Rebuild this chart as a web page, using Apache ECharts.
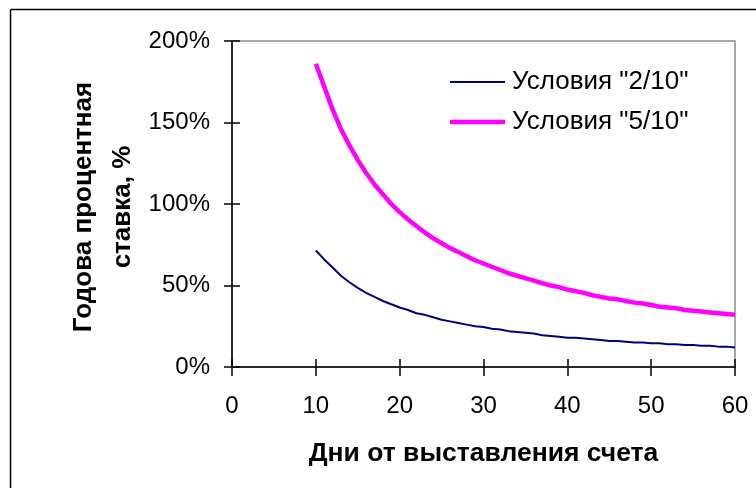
<!DOCTYPE html>
<html>
<head>
<meta charset="utf-8">
<script src="https://cdn.jsdelivr.net/npm/echarts@6/dist/echarts.min.js"></script>
<style>
html,body{margin:0;padding:0;background:#fff;}
#chart{width:756px;height:488px;}
</style>
</head>
<body>
<div id="chart"></div>
<script>
const days = [10,11,12,13,14,15,16,17,18,19,20,21,22,23,24,25,26,27,28,29,30,31,32,33,34,35,36,37,38,39,40,41,42,43,44,45,46,47,48,49,50,51,52,53,54,55,56,57,58,59,60];
const rate2_10 = [71.5,66,61,56,52,48.5,45.5,43,40.5,38.5,36.5,35,33,32,30.5,29,28,27,26,25,24.5,23.5,23,22,21.5,21,20.5,19.5,19,18.5,18,18,17.5,17,16.5,16,16,15.5,15,15,14.5,14.5,14,14,13.5,13.5,13,13,12.5,12.5,12];
const rate5_10 = [186,172,158,146,136,127,119,112,106,100,95,90.5,86.5,82.5,79,76,73,70.5,68,65.5,63.5,61.5,59.5,57.5,56,54.5,53,51.5,50,49,47.5,46.5,45.5,44,43,42,41.5,40.5,39.5,39,38,37,36.5,36,35,34.5,34,33.5,33,32.5,32];
const seriesNames = ['Условия "2/10"', 'Условия "5/10"'];
const xTitle = 'Дни от выставления счета';
const yTitle = 'Годова процентная\nставка, %';

const FONT = 'Liberation Sans, Arial, sans-serif';
const chart = echarts.init(document.getElementById('chart'), null, {renderer: 'canvas'});

const xBase = {min: 0, max: 60, interval: 10, type: 'value', gridIndex: 0, position: 'bottom'};
const yBase = {min: 0, max: 200, interval: 50, type: 'value', gridIndex: 0, position: 'left'};
const legendText = {fontFamily: FONT, fontSize: 26, color: '#000', padding: [0,0,0,2]};

chart.setOption({
  animation: false,
  backgroundColor: '#fff',
  grid: {left: 232, right: 21, top: 41, bottom: 121, show: true, borderColor: '#8c8c8c', borderWidth: 1.5, backgroundColor: 'transparent'},
  legend: [
    {data: [seriesNames[0]], left: 450, top: 69, padding: 0, icon: 'rect', itemWidth: 55, itemHeight: 2, itemGap: 0, textStyle: legendText},
    {data: [seriesNames[1]], left: 450, top: 109, padding: 0, icon: 'rect', itemWidth: 55, itemHeight: 4.5, itemGap: 0, textStyle: legendText}
  ],
  xAxis: [
    Object.assign({}, xBase, {
      name: xTitle, nameLocation: 'middle', nameGap: 73,
      nameTextStyle: {fontFamily: FONT, fontSize: 26.5, fontWeight: 'bold', color: '#000'},
      axisLine: {show: true, lineStyle: {color: '#000', width: 1.5}},
      axisTick: {show: true, inside: false, length: 9, lineStyle: {color: '#000', width: 1.5}},
      axisLabel: {fontFamily: FONT, fontSize: 24, color: '#000', margin: 27},
      splitLine: {show: false}
    }),
    Object.assign({}, xBase, {
      axisLine: {show: false},
      axisTick: {show: true, inside: true, length: 8, lineStyle: {color: '#000', width: 1.5}},
      axisLabel: {show: false},
      splitLine: {show: false}
    })
  ],
  yAxis: [
    Object.assign({}, yBase, {
      axisLine: {show: true, lineStyle: {color: '#000', width: 1.5}},
      axisTick: {show: true, inside: false, length: 8, lineStyle: {color: '#000', width: 1.5}},
      axisLabel: {fontFamily: FONT, fontSize: 24, color: '#000', margin: 22, formatter: v => v + '%'},
      splitLine: {show: false}
    }),
    Object.assign({}, yBase, {
      axisLine: {show: false},
      axisTick: {show: true, inside: true, length: 8, lineStyle: {color: '#000', width: 1.5}},
      axisLabel: {show: false},
      splitLine: {show: false}
    })
  ],
  graphic: [
    {type: 'line', shape: {x1: 10.5, y1: 9.5, x2: 756, y2: 9.5}, style: {stroke: '#000', lineWidth: 1.5}, silent: true},
    {type: 'line', shape: {x1: 10.5, y1: 9.5, x2: 10.5, y2: 488}, style: {stroke: '#000', lineWidth: 1.5}, silent: true},
    {type: 'text', x: 103, y: 207, rotation: Math.PI / 2, silent: true,
     style: {text: yTitle, fill: '#000', font: 'bold 26px ' + FONT, lineHeight: 39, align: 'center', verticalAlign: 'middle'}}
  ],
  series: [
    {name: seriesNames[0], type: 'line', xAxisIndex: 0, yAxisIndex: 0, showSymbol: false, symbol: 'none',
     data: days.map((d, i) => [d, rate2_10[i]]),
     lineStyle: {color: '#000080', width: 2}, itemStyle: {color: '#000080'}},
    {name: seriesNames[1], type: 'line', xAxisIndex: 0, yAxisIndex: 0, showSymbol: false, symbol: 'none',
     data: days.map((d, i) => [d, rate5_10[i]]),
     lineStyle: {color: '#ff00ff', width: 4.5}, itemStyle: {color: '#ff00ff'}}
  ]
});
</script>
</body>
</html>
